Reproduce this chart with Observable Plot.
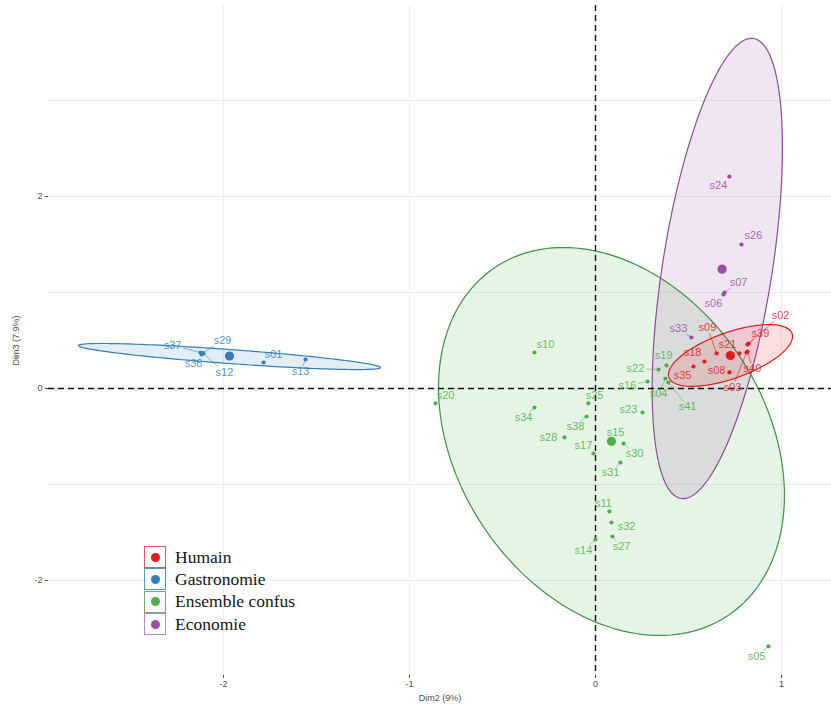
<!DOCTYPE html>
<html><head><meta charset="utf-8">
<script src="https://cdn.jsdelivr.net/npm/d3@7"></script>
<script src="https://cdn.jsdelivr.net/npm/@observablehq/plot@0.6"></script>
<style>
body{margin:0;background:#fff;}
#wrap{position:relative;width:831px;height:704px;overflow:hidden;}
#legend{position:absolute;left:144px;top:546px;font-family:"Liberation Serif","Times New Roman",serif;font-size:17.5px;color:#151515;}
.key{display:flex;align-items:center;height:22.3px;}
.box{width:20px;height:20px;border:1.2px solid;display:flex;align-items:center;justify-content:center;background:#fdfdfd;}
.box span{width:9px;height:9px;border-radius:50%;display:block;}
.key .t{margin-left:9px;}
</style></head><body><div id="wrap"></div>
<script>
// ---------- data ----------
const groups = ["Humain", "Gastronomie", "Ensemble confus", "Economie"];
const groupColors = ["#e41a1c", "#377eb8", "#4daf4a", "#984ea3"];
const outlineColors = ["#e41a1c", "#377eb8", "#3f9344", "#8e4d9a"];
const legendBorders = ["#e0566a", "#4f9fb0", "#6fae6a", "#b58abf"];

const humainIds = ["s35", "s18", "s09", "s21", "s39", "s02", "s40", "s03", "s08"];
const humainDim2 = [0.527, 0.586, 0.651, 0.774, 0.817, 0.823, 0.817, 0.812, 0.720];
const humainDim3 = [0.229, 0.281, 0.365, 0.365, 0.458, 0.469, 0.385, 0.375, 0.167];
const humainLabelDim2 = [0.468, 0.522, 0.602, 0.710, 0.887, 0.995, 0.844, 0.737, 0.651];
const humainLabelDim3 = [0.135, 0.375, 0.635, 0.458, 0.573, 0.760, 0.208, 0.010, 0.1875];

const gastroIds = ["s37", "s36", "s29", "s12", "s01", "s13"];
const gastroDim2 = [-2.124, -2.118, -2.113, -2.108, -1.785, -1.559];
const gastroDim3 = [0.375, 0.354, 0.365, 0.365, 0.271, 0.302];
const gastroLabelDim2 = [-2.274, -2.161, -2.005, -1.995, -1.731, -1.586];
const gastroLabelDim3 = [0.448, 0.260, 0.500, 0.167, 0.354, 0.177];

const confusIds = ["s10", "s20", "s34", "s25", "s38", "s28", "s17", "s15", "s30", "s31", "s23",
  "s22", "s19", "s16", "s04", "s41", "s11", "s32", "s27", "s14", "s05"];
const confusDim2 = [-0.328, -0.860, -0.328, -0.038, -0.048, -0.167, -0.011, 0.091, 0.151, 0.134, 0.253,
  0.339, 0.382, 0.280, 0.376, 0.392, 0.075, 0.086, 0.091, 0.000, 0.930];
const confusDim3 = [0.375, -0.156, -0.198, -0.156, -0.292, -0.510, -0.677, -0.542, -0.573, -0.771, -0.250,
  0.198, 0.240, 0.073, 0.104, 0.0625, -1.281, -1.396, -1.542, -1.573, -2.6875];
const confusLabelDim2 = [-0.269, -0.806, -0.387, -0.005, -0.108, -0.253, -0.065, 0.108, 0.210, 0.081, 0.177,
  0.215, 0.366, 0.172, 0.339, 0.495, 0.043, 0.167, 0.140, -0.065, 0.866];
const confusLabelDim3 = [0.458, -0.073, -0.302, -0.073, -0.396, -0.510, -0.594, -0.458, -0.677, -0.875, -0.219,
  0.208, 0.344, 0.031, -0.052, -0.1875, -1.198, -1.4375, -1.646, -1.6875, -2.792];

const ecoIds = ["s24", "s26", "s07", "s06", "s33"];
const ecoDim2 = [0.720, 0.785, 0.694, 0.688, 0.516];
const ecoDim3 = [2.208, 1.500, 1.000, 0.979, 0.531];
const ecoLabelDim2 = [0.661, 0.849, 0.769, 0.634, 0.446];
const ecoLabelDim3 = [2.115, 1.594, 1.104, 0.885, 0.625];

// confidence ellipses: centre and two conjugate half-axes (Dim2, Dim3 units), in group order
const ellipseCx = [0.726, -1.968, 0.086, 0.655];
const ellipseCy = [0.344, 0.333, -0.552, 1.250];
const ellipseAx = [0.331, 0.812, 0.930, 0.195];
const ellipseAy = [0.229, -0.115, -0.5625, 2.396];
const ellipseBx = [0.0417, -0.0027, 0.000, 0.291];
const ellipseBy = [-0.2256, -0.0727, -1.941, -0.090];

const xTicks = [-2, -1, 0, 1];
const yTicks = [-2, 0, 2];
const xGrid = [-2, -1, 0, 1];
const yGrid = [-2, -1, 0, 1, 2, 3];
const xTitle = "Dim2 (9%)";
const yTitle = "Dim3 (7.9%)";

// ---------- build tables ----------
const W = 831, H = 704, mL = 48, mR = 0, mT = 5, mB = 29;
const xDomain = [-2.941, 1.269], yDomain = [-2.99, 3.99];
const X = Plot.scale({x: {type: "linear", domain: xDomain, range: [mL, W - mR]}});
const Y = Plot.scale({y: {type: "linear", domain: yDomain, range: [H - mB, mT]}});

const sets = [
  [humainIds, humainDim2, humainDim3, humainLabelDim2, humainLabelDim3],
  [gastroIds, gastroDim2, gastroDim3, gastroLabelDim2, gastroLabelDim3],
  [confusIds, confusDim2, confusDim3, confusLabelDim2, confusLabelDim3],
  [ecoIds, ecoDim2, ecoDim3, ecoLabelDim2, ecoLabelDim3]
];
const pts = [];
sets.forEach(([ids, xs, ys, lxs, lys], g) => {
  ids.forEach((id, i) => pts.push({id, g: groups[g], x: xs[i], y: ys[i], lx: lxs[i], ly: lys[i]}));
});
const centroids = groups.map((g, k) => ({g, x: d3.mean(sets[k][1]), y: d3.mean(sets[k][2])}));

// leader segments (point -> edge of label box), like ggrepel
const links = [];
for (const p of pts) {
  const px = X.apply(p.x), py = Y.apply(p.y), lx = X.apply(p.lx), ly = Y.apply(p.ly);
  const hw = p.id.length * 3.05 + 1.5, hh = 5.5;
  const dx = px - lx, dy = py - ly;
  if (Math.abs(dx) <= hw && Math.abs(dy) <= hh) continue;
  const t = Math.min(dx ? hw / Math.abs(dx) : Infinity, dy ? hh / Math.abs(dy) : Infinity);
  const ex = lx + t * dx, ey = ly + t * dy;
  if (Math.hypot(px - ex, py - ey) < 6) continue;
  links.push({g: p.g, x1: p.x, y1: p.y, x2: X.invert(ex), y2: Y.invert(ey)});
}

// ellipse outlines
const ell = [];
groups.forEach((g, k) => {
  const n = 180;
  for (let i = 0; i <= n; i++) {
    const a = 2 * Math.PI * i / n;
    ell.push({g, k, x: ellipseCx[k] + ellipseAx[k] * Math.cos(a) + ellipseBx[k] * Math.sin(a),
                    y: ellipseCy[k] + ellipseAy[k] * Math.cos(a) + ellipseBy[k] * Math.sin(a)});
  }
});
const fillOrder = ["Ensemble confus", "Economie", "Humain", "Gastronomie"];

const color = {domain: groups, range: groupColors};
const marks = [
  Plot.ruleX(xGrid, {stroke: "#eeeeee", strokeWidth: 1}),
  Plot.ruleY(yGrid, {stroke: "#eeeeee", strokeWidth: 1}),
  ...fillOrder.map(g => Plot.line(ell.filter(d => d.g === g), {x: "x", y: "y", fill: groupColors[groups.indexOf(g)], fillOpacity: 0.14, stroke: "none"})),
  ...fillOrder.map(g => Plot.line(ell.filter(d => d.g === g), {x: "x", y: "y", stroke: outlineColors[groups.indexOf(g)], strokeWidth: 1.2})),
  Plot.ruleY([0], {stroke: "#111", strokeWidth: 1.4, strokeDasharray: "6,4"}),
  Plot.ruleX([0], {stroke: "#111", strokeWidth: 1.4, strokeDasharray: "6,4"}),
  Plot.link(links, {x1: "x1", y1: "y1", x2: "x2", y2: "y2", stroke: "g", strokeWidth: 0.7, strokeOpacity: 0.8}),
  Plot.dot(pts, {x: "x", y: "y", fill: "g", r: 2.1, stroke: "none"}),
  Plot.dot(centroids, {x: "x", y: "y", fill: "g", r: 4.6, stroke: "none"}),
  Plot.text(pts, {x: "lx", y: "ly", text: "id", fill: "g", fillOpacity: 0.85, fontSize: 11, fontFamily: "Liberation Sans, Arial, sans-serif"}),
  Plot.axisX({ticks: xTicks, tickSize: 3, tickPadding: 2, fontSize: 9, label: xTitle, labelAnchor: "center", labelOffset: 25, labelArrow: "none", tickFormat: d => String(d)}),
  Plot.axisY({ticks: yTicks, tickSize: 3, tickPadding: 3, fontSize: 9, label: yTitle, labelAnchor: "center", labelOffset: 36, labelArrow: "none", tickFormat: d => String(d)})
];

const chart = Plot.plot({
  width: W, height: H, marginLeft: mL, marginRight: mR, marginTop: mT, marginBottom: mB,
  x: {domain: xDomain}, y: {domain: yDomain},
  color,
  style: {fontFamily: "Liberation Sans, Arial, sans-serif", color: "#4d4d4d", background: "#fff"},
  marks
});
const wrap = document.getElementById("wrap");
wrap.appendChild(chart);

// in-panel legend
const leg = document.createElement("div");
leg.id = "legend";
groups.forEach((g, k) => {
  const row = document.createElement("div");
  row.className = "key";
  row.innerHTML = `<div class="box" style="border-color:${legendBorders[k]}"><span style="background:${groupColors[k]}"></span></div><span class="t">${g}</span>`;
  leg.appendChild(row);
});
wrap.appendChild(leg);
</script></body></html>
